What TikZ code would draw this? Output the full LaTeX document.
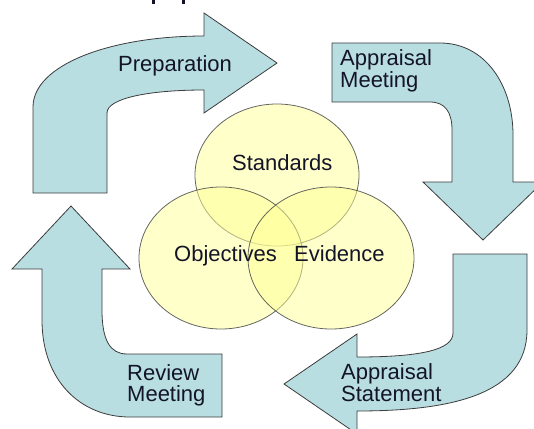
\documentclass[tikz,border=0pt]{standalone}
\usepackage{fontspec}
\setmainfont{Liberation Sans}
\definecolor{arrowfill}{RGB}{184,222,226}
\definecolor{arrowline}{RGB}{60,60,60}
\definecolor{vennfill}{RGB}{255,255,150}
\definecolor{txt}{RGB}{20,20,40}
\tikzset{
  bigarrow/.style={fill=arrowfill, draw=arrowline, line width=0.8pt, line join=miter},
  venn/.style={fill=vennfill, fill opacity=0.5, draw=black!75, draw opacity=0.8, line width=0.8pt},
  lbl/.style={anchor=base west, inner sep=0pt, text=txt, font=\fontsize{22}{22}\selectfont}
}
\begin{document}
\begin{tikzpicture}[x=1pt,y=-1pt]
\useasboundingbox (0,0) rectangle (534,428);
\clip (0,0) rectangle (534,428);
% title fragments (cut off)
\fill[txt] (152,0) rectangle (155,4);
\fill[txt] (182,0) rectangle (185,4);
% Preparation arrow
\draw[bigarrow] (33,193) -- (33,107) .. controls (33,65) and (110,36) .. (204,36)
  -- (204,13) -- (277,63) -- (204,113) -- (204,90)
  .. controls (150,90) and (107,98) .. (107,113) -- (107,193) -- cycle;
% Appraisal Meeting arrow
\draw[bigarrow] (332,43) -- (440,43) .. controls (485,43) and (513,85) .. (513,135)
  -- (513,182) -- (543,182) -- (483,240) -- (423,182) -- (452,182) -- (452,130)
  .. controls (452,112) and (445,102) .. (430,102) -- (332,102) -- cycle;
% Appraisal Statement arrow
\draw[bigarrow] (453,254) -- (527,254) -- (527,330) .. controls (527,395) and (450,411) .. (357,411)
  -- (357,434) -- (284,384) -- (357,334) -- (357,357)
  .. controls (420,357) and (453,350) .. (453,333) -- cycle;
% Review Meeting arrow
\draw[bigarrow] (222,417) -- (130,417) .. controls (80,417) and (42,380) .. (42,320)
  -- (42,269) -- (12,269) -- (71,206) -- (130,269) -- (102,269) -- (102,310)
  .. controls (102,340) and (110,354) .. (127,354) -- (222,354) -- cycle;
% Venn
\draw[venn] (277,175) ellipse [x radius=82pt, y radius=71pt];
\draw[venn] (221,258) ellipse [x radius=82pt, y radius=71pt];
\draw[venn] (331,258) ellipse [x radius=83pt, y radius=71pt];
% labels
\node[lbl] (prep) at (118,71) {Preparation};
\node[lbl] (am1) at (340,65) {Appraisal};
\node[lbl] (am2) at (340,87) {Meeting};
\node[lbl] (std) at (232,170) {Standards};
\node[lbl] (obj) at (174,261) {Objectives};
\node[lbl] (evi) at (294,261) {Evidence};
\node[lbl] (rm1) at (127,380) {Review};
\node[lbl] (rm2) at (127,401) {Meeting};
\node[lbl] (as1) at (341,379) {Appraisal};
\node[lbl] (as2) at (341,401) {Statement};
\end{tikzpicture}
\end{document}
